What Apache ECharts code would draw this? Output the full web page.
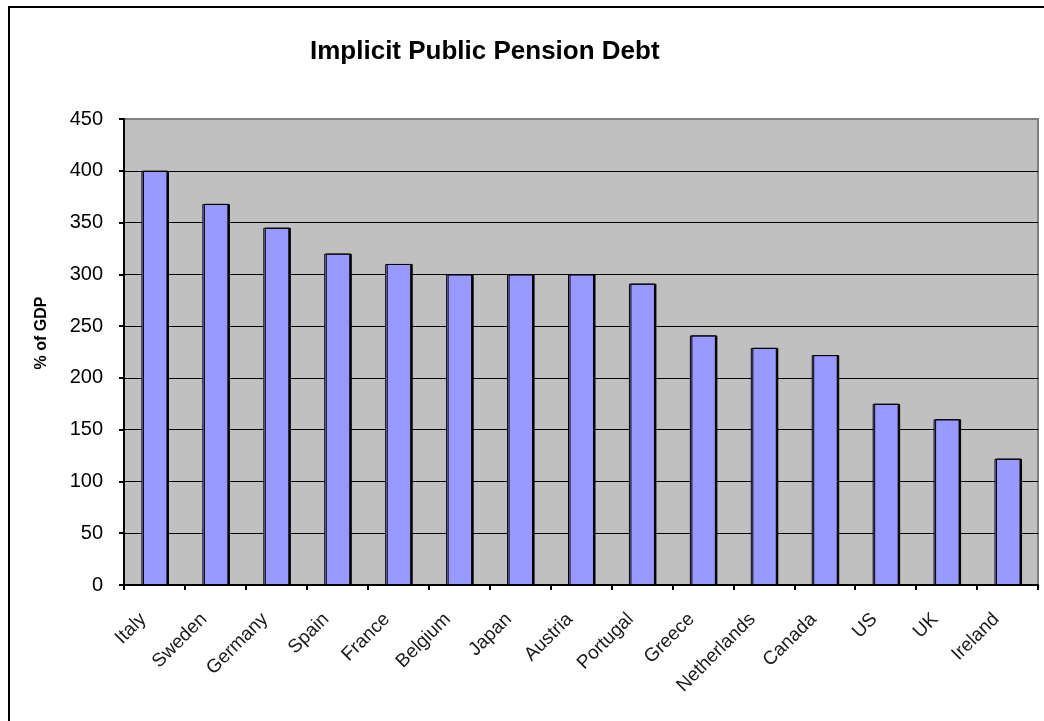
<!DOCTYPE html>
<html>
<head>
<meta charset="utf-8">
<script src="https://cdn.jsdelivr.net/npm/echarts@6/dist/echarts.min.js"></script>
<style>
html,body{margin:0;padding:0;width:1044px;height:721px;overflow:hidden;background:#fff;}
#frame{position:absolute;left:8px;top:6px;width:1100px;height:800px;border:2px solid #000;box-sizing:border-box;}
#chart{position:absolute;left:0;top:0;width:1044px;height:721px;}
</style>
</head>
<body>
<div id="frame"></div>
<div id="chart"></div>
<script>
const categories = ['Italy','Sweden','Germany','Spain','France','Belgium','Japan','Austria','Portugal','Greece','Netherlands','Canada','US','UK','Ireland'];
const values = [400, 368, 345, 320, 310, 300, 300, 300, 291, 241, 229, 222, 175, 160, 122];
const yTicks = [0, 50, 100, 150, 200, 250, 300, 350, 400, 450];

const chart = echarts.init(document.getElementById('chart'), null, {renderer:'canvas'});
chart.setOption({
  animation: false,
  backgroundColor: 'transparent',
  title: {
    text: 'Implicit Public Pension Debt',
    left: 305, top: 34,
    textStyle: {fontFamily: 'Liberation Sans, Arial', fontWeight: 'bold', fontSize: 26, color: '#000'}
  },
  graphic: [{
    type: 'text',
    x: 42, y: 333, rotation: Math.PI / 2,
    style: {
      text: '% of GDP', fill: '#000',
      font: 'bold 16px "Liberation Sans", Arial',
      textAlign: 'center', textVerticalAlign: 'middle'
    }
  }],
  grid: {
    left: 124, top: 119, right: 6, bottom: 136,
    show: true, backgroundColor: '#c0c0c0', borderColor: '#808080', borderWidth: 2
  },
  xAxis: {
    type: 'category',
    data: categories,
    boundaryGap: true,
    axisLine: {lineStyle: {color: '#000', width: 2}},
    axisTick: {show: true, length: 5, inside: false, lineStyle: {color: '#000', width: 2}},
    axisLabel: {
      rotate: 45, interval: 0, margin: 20, padding: [0, 16, 0, 0],
      fontFamily: 'Liberation Sans, Arial', fontSize: 19, color: '#1a1a1a'
    }
  },
  yAxis: {
    type: 'value',
    min: yTicks[0], max: yTicks[yTicks.length - 1], interval: 50,
    axisLine: {show: true, lineStyle: {color: '#000', width: 2}},
    axisTick: {show: true, length: 5, lineStyle: {color: '#000', width: 2}},
    axisLabel: {margin: 21, fontFamily: 'Liberation Sans, Arial', fontSize: 20, color: '#000'},
    splitLine: {show: true, showMaxLine: false, lineStyle: {color: '#000', width: 1}}
  },
  series: [{
    type: 'bar',
    data: values,
    barWidth: 26,
    itemStyle: {
      color: '#9999ff', borderColor: '#000', borderWidth: 1,
      shadowColor: '#000', shadowOffsetX: 1.5, shadowOffsetY: 0, shadowBlur: 0
    }
  }]
});
</script>
</body>
</html>
